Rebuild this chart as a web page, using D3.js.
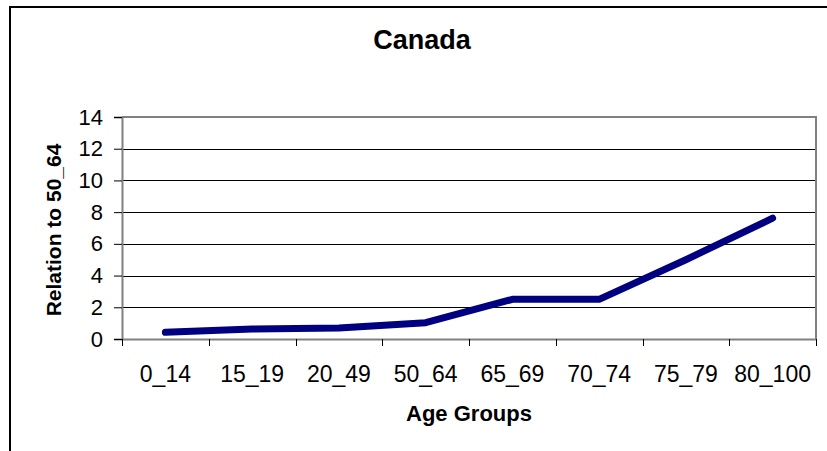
<!DOCTYPE html>
<html>
<head>
<meta charset="utf-8">
<script src="https://cdn.jsdelivr.net/npm/d3@7"></script>
<style>
  html, body { margin: 0; padding: 0; background: #fff; }
  svg { display: block; }
  text { font-family: "Liberation Sans", Arial, sans-serif; fill: #000; }
</style>
</head>
<body>
<svg id="chart" width="827" height="451"></svg>
<script>
const categories = ["0_14", "15_19", "20_49", "50_64", "65_69", "70_74", "75_79", "80_100"];
const values = [0.42, 0.63, 0.70, 1.03, 2.50, 2.50, 5.00, 7.62];
const yTicks = [0, 2, 4, 6, 8, 10, 12, 14];
const titleText = "Canada";
const xTitle = "Age Groups";
const yTitle = "Relation to 50_64";

const svg = d3.select("#chart");
const m = { left: 122, right: 816, top: 117, bottom: 339 };

// outer chart frame
svg.append("rect")
  .attr("x", 10).attr("y", 7)
  .attr("width", 900).attr("height", 600)
  .attr("fill", "#fff").attr("stroke", "#000").attr("stroke-width", 2);

const x = d3.scaleBand().domain(categories).range([m.left, m.right]).padding(0);
const y = d3.scaleLinear().domain([0, 14]).range([m.bottom, m.top]);

// gridlines
svg.append("g")
  .selectAll("line")
  .data(yTicks.filter(d => d > 0 && d < 14))
  .join("line")
  .attr("x1", m.left).attr("x2", m.right)
  .attr("y1", d => Math.round(y(d)) + 0.5).attr("y2", d => Math.round(y(d)) + 0.5)
  .attr("stroke", "#000").attr("stroke-width", 1);

// plot area border (top, right)
svg.append("path")
  .attr("d", `M${m.left},${m.top}H${m.right}V${m.bottom}`)
  .attr("fill", "none").attr("stroke", "#808080").attr("stroke-width", 2);

// y axis
const yAxis = d3.axisLeft(y).tickValues(yTicks).tickSize(8).tickPadding(11).tickFormat(d3.format("d"));
const gy = svg.append("g").attr("transform", `translate(${m.left},0)`).call(yAxis);
gy.select(".domain").attr("stroke", "#808080").attr("stroke-width", 2);
gy.selectAll(".tick line").attr("stroke", "#000").attr("stroke-width", 1);
gy.selectAll(".tick text").attr("font-size", 22).attr("font-family", "Liberation Sans, Arial, sans-serif").attr("fill", "#000");

// x axis
const xAxis = d3.axisBottom(x).tickSize(0).tickPadding(27);
const gx = svg.append("g").attr("transform", `translate(0,${m.bottom})`).call(xAxis);
gx.select(".domain").attr("stroke", "#808080").attr("stroke-width", 2);
gx.selectAll(".tick text").attr("font-size", 23).attr("font-family", "Liberation Sans, Arial, sans-serif").attr("fill", "#000");
// boundary ticks between categories
const bounds = categories.map(c => x(c)).concat([x(categories[categories.length - 1]) + x.bandwidth()]);
svg.append("g").selectAll("line").data(bounds).join("line")
  .attr("x1", d => Math.round(d) + 0.5).attr("x2", d => Math.round(d) + 0.5)
  .attr("y1", m.bottom).attr("y2", m.bottom + 7)
  .attr("stroke", "#000").attr("stroke-width", 1);

// line
const line = d3.line()
  .x((d, i) => x(categories[i]) + x.bandwidth() / 2)
  .y(d => y(d));
svg.append("path")
  .datum(values)
  .attr("d", line)
  .attr("fill", "none")
  .attr("stroke", "#000080")
  .attr("stroke-width", 7)
  .attr("stroke-linecap", "round")
  .attr("stroke-linejoin", "round");

// titles
svg.append("text")
  .attr("x", 422).attr("y", 49)
  .attr("text-anchor", "middle")
  .attr("font-size", 27).attr("font-weight", "bold")
  .text(titleText);

svg.append("text")
  .attr("x", 469).attr("y", 421)
  .attr("text-anchor", "middle")
  .attr("font-size", 22).attr("font-weight", "bold")
  .text(xTitle);

svg.append("text")
  .attr("transform", `translate(61,${230}) rotate(-90)`)
  .attr("text-anchor", "middle")
  .attr("font-size", 21).attr("font-weight", "bold")
  .text(yTitle);
</script>
</body>
</html>
